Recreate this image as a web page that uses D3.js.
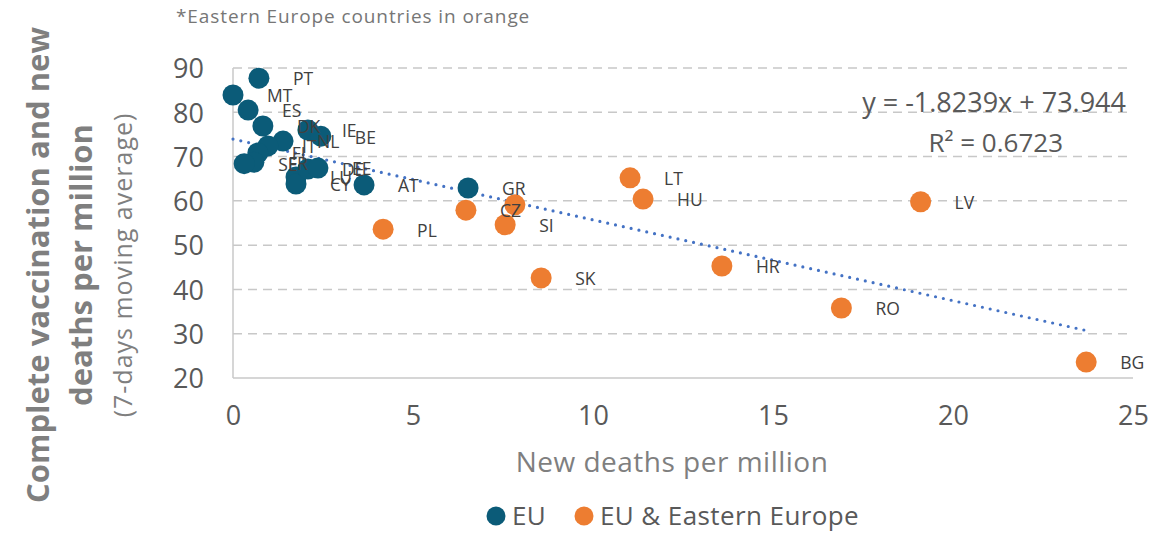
<!DOCTYPE html>
<html>
<head>
<meta charset="utf-8">
<script src="https://cdn.jsdelivr.net/npm/d3@7"></script>
<style>
    body { margin: 0; background: #fff; }
    text { font-family: "Open Sans", sans-serif; }
</style>
</head>
<body>
<svg id="chart" width="1175" height="533"></svg>
<script>
    // EU (blue) countries: new deaths per million vs complete vaccination %
    const euCodes = ["PT", "MT", "ES", "DK", "IE", "BE", "NL", "IT", "FI", "FR", "SE", "LU", "CY", "DE", "EE", "AT", "GR"];
    const euDeaths = [0.72, 0.0, 0.42, 0.83, 2.08, 2.44, 1.39, 0.97, 0.69, 0.58, 0.31, 1.75, 1.75, 2.08, 2.36, 3.64, 6.53];
    const euVacc = [87.7, 83.9, 80.5, 76.9, 76.0, 74.6, 73.5, 72.4, 70.8, 68.7, 68.4, 65.4, 63.8, 67.2, 67.4, 63.6, 62.9];

    // Eastern Europe (orange)
    const eastCodes = ["PL", "CZ", "", "SI", "SK", "LT", "HU", "LV", "HR", "RO", "BG"];
    const eastDeaths = [4.17, 6.47, 7.83, 7.56, 8.56, 11.03, 11.39, 19.1, 13.58, 16.9, 23.7];
    const eastVacc = [53.6, 57.9, 59.1, 54.6, 42.6, 65.2, 60.4, 59.8, 45.3, 35.8, 23.6];

    const xTicks = [0, 5, 10, 15, 20, 25];
    const yTicks = [20, 30, 40, 50, 60, 70, 80, 90];
    const slope = -1.8239, intercept = 73.944;

    const blue = "#0b5b78", orange = "#ed7d31", grid = "#c8c8c8", ink = "#595959";

    const svg = d3.select("#chart");
    const x = d3.scaleLinear().domain([0, 25]).range([233, 1133]);
    const y = d3.scaleLinear().domain([20, 90]).range([378, 68]);

    // gridlines
    svg.append("g").selectAll("line")
        .data(yTicks.filter(d => d > 20))
        .join("line")
        .attr("x1", x(0)).attr("x2", x(25))
        .attr("y1", d => y(d)).attr("y2", d => y(d))
        .attr("stroke", grid).attr("stroke-width", 1.5)
        .attr("stroke-dasharray", "9 6");

    // axis lines
    svg.append("line")
        .attr("x1", x(0)).attr("x2", x(25))
        .attr("y1", y(20)).attr("y2", y(20))
        .attr("stroke", grid).attr("stroke-width", 1.5);
    svg.append("line")
        .attr("x1", x(0)).attr("x2", x(0))
        .attr("y1", y(20)).attr("y2", y(90))
        .attr("stroke", grid).attr("stroke-width", 1.5);

    // tick labels via d3 axes, domain/tick lines hidden
    const xAxis = svg.append("g")
        .attr("transform", `translate(0,${y(20) + 30})`)
        .call(d3.axisBottom(x).tickValues(xTicks).tickSize(0));
    const yAxis = svg.append("g")
        .attr("transform", `translate(${x(0) - 26},0)`)
        .call(d3.axisLeft(y).tickValues(yTicks).tickSize(0));
    [xAxis, yAxis].forEach(g => {
        g.select(".domain").remove();
        g.selectAll("text")
            .attr("fill", ink)
            .style("font-family", "'Open Sans', sans-serif")
            .style("font-size", "27px");
    });
    xAxis.selectAll("text").attr("dy", "0.5em");
    yAxis.selectAll("text").attr("dy", "0.36em");

    // trend line
    const allDeaths = euDeaths.concat(eastDeaths);
    const trendX = [0, d3.max(allDeaths)];
    svg.append("line")
        .attr("x1", x(trendX[0])).attr("y1", y(slope * trendX[0] + intercept))
        .attr("x2", x(trendX[1])).attr("y2", y(slope * trendX[1] + intercept))
        .attr("stroke", "#4472c4").attr("stroke-width", 3.2)
        .attr("stroke-linecap", "round")
        .attr("stroke-dasharray", "0 8");

    function drawSeries(codes, deaths, vacc, color) {
        const pts = codes.map((c, i) => ({ code: c, dx: deaths[i], vy: vacc[i] }));
        const g = svg.append("g");
        g.selectAll("circle").data(pts).join("circle")
            .attr("cx", d => x(d.dx)).attr("cy", d => y(d.vy))
            .attr("r", 10.5)
            .attr("fill", color);
        return pts;
    }
    const euPts = drawSeries(euCodes, euDeaths, euVacc, blue);
    const eastPts = drawSeries(eastCodes, eastDeaths, eastVacc, orange);

    // data labels to the right of each point
    svg.append("g").selectAll("text")
        .data(euPts.concat(eastPts))
        .join("text")
        .attr("x", d => x(d.dx) + 34)
        .attr("y", d => y(d.vy) + 1)
        .attr("dy", "0.36em")
        .attr("fill", "#404040")
        .style("font-size", "17.5px")
        .text(d => d.code);

    // trend equation
    svg.append("text")
        .attr("x", 1126).attr("y", 112)
        .attr("text-anchor", "end")
        .attr("fill", ink).style("font-size", "27px")
        .text(`y = ${slope}x  + ${intercept}`);
    svg.append("text")
        .attr("x", 1063).attr("y", 152)
        .attr("text-anchor", "end")
        .attr("fill", ink).style("font-size", "26px")
        .text("R² = 0.6723");

    // note
    svg.append("text")
        .attr("x", 176).attr("y", 23)
        .attr("fill", "#767676").style("font-size", "19px")
        .style("letter-spacing", "0.9px")
        .text("*Eastern Europe countries in orange");

    // axis titles
    svg.append("text")
        .attr("x", 672).attr("y", 472)
        .attr("text-anchor", "middle")
        .attr("fill", "#7f7f7f").style("font-size", "28px")
        .style("letter-spacing", "0.5px")
        .text("New deaths per million");

    const yTitle = svg.append("g").attr("transform", "translate(0,265) rotate(-90)");
    yTitle.append("text")
        .attr("x", 0).attr("y", 49)
        .attr("text-anchor", "middle")
        .attr("fill", "#7f7f7f").style("font-size", "31px").style("font-weight", "bold")
        .text("Complete vaccination and new");
    yTitle.append("text")
        .attr("x", 0).attr("y", 92)
        .attr("text-anchor", "middle")
        .attr("fill", "#7f7f7f").style("font-size", "31px").style("font-weight", "bold")
        .text("deaths per million");
    yTitle.append("text")
        .attr("x", 0).attr("y", 132)
        .attr("text-anchor", "middle")
        .attr("fill", "#7f7f7f").style("font-size", "25px")
        .style("letter-spacing", "1px")
        .text("(7-days moving average)");

    // legend
    const legend = svg.append("g").attr("transform", "translate(0,516)");
    [["EU", blue, 496], ["EU & Eastern Europe", orange, 584]].forEach(([name, color, lx]) => {
        legend.append("circle").attr("cx", lx).attr("cy", 0).attr("r", 9.5).attr("fill", color);
        legend.append("text")
            .attr("x", lx + 16).attr("y", 0).attr("dy", "0.34em")
            .attr("fill", ink).style("font-size", "26px")
            .style("letter-spacing", "0.4px")
            .text(name);
    });
</script>
</body>
</html>
